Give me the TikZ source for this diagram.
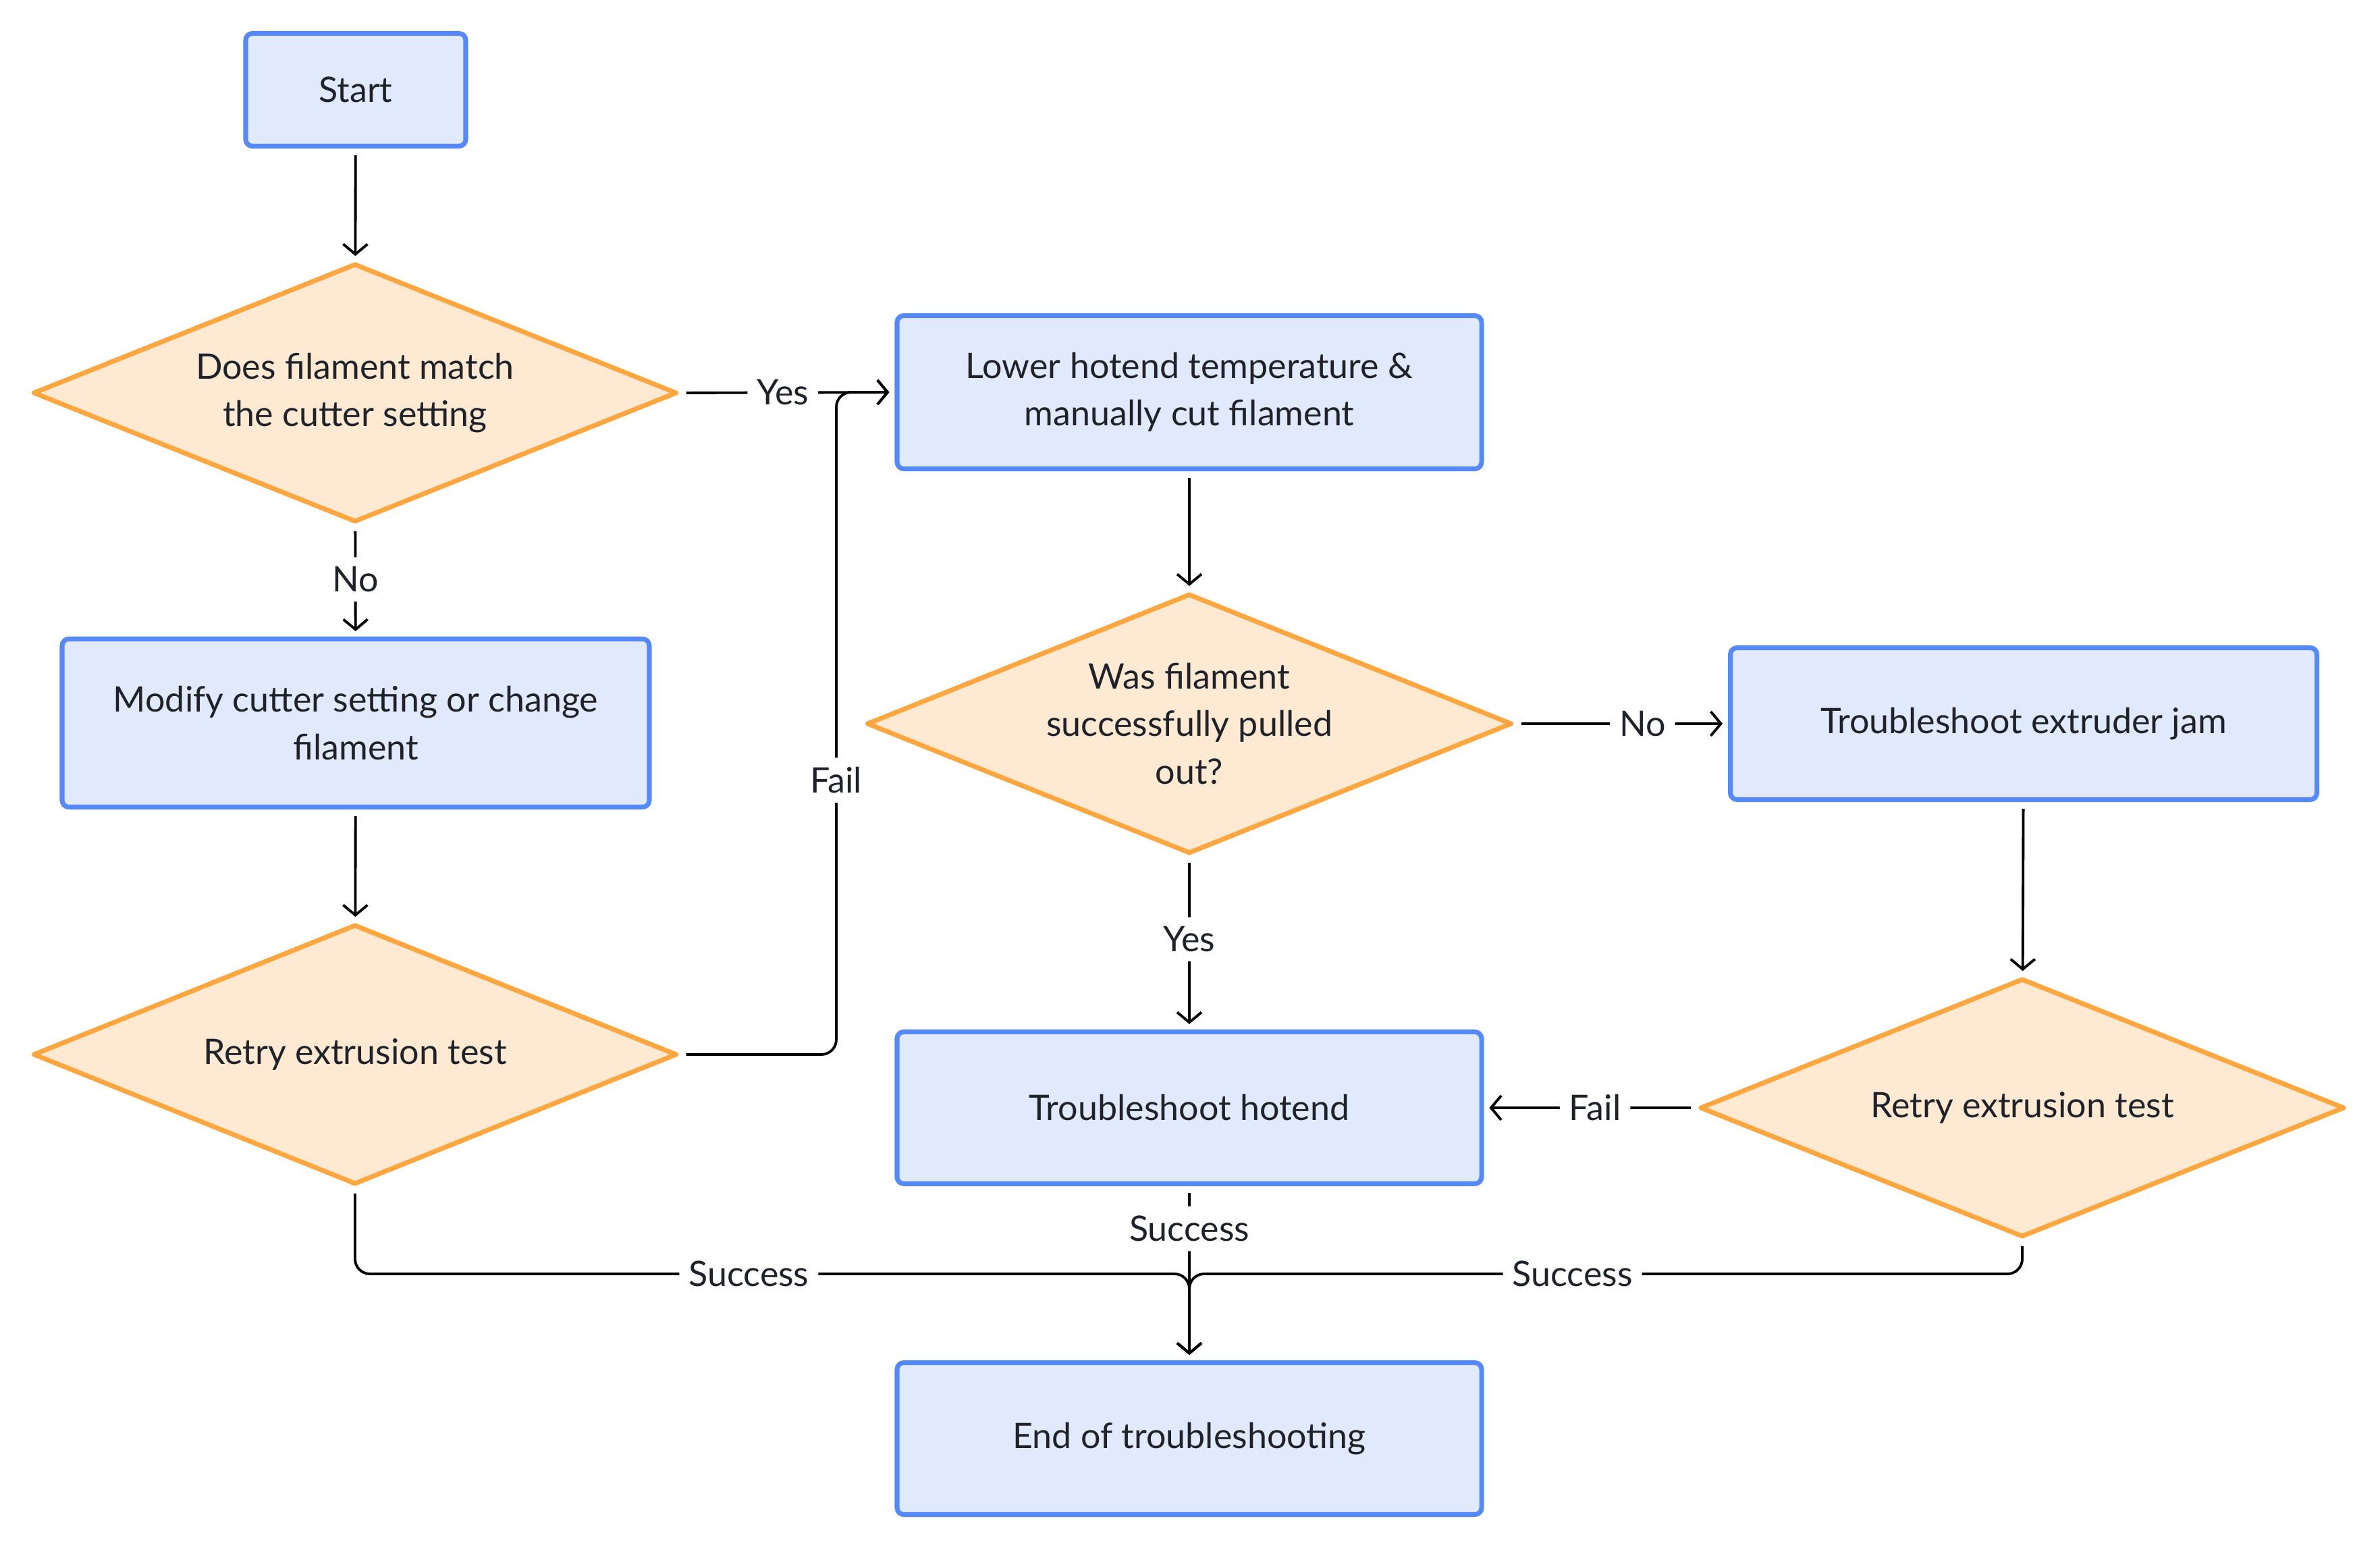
\documentclass[tikz,border=0pt]{standalone}
\usepackage{fontspec}
\setmainfont{Lato}
\usetikzlibrary{shapes.geometric,arrows.meta}
\definecolor{boxfill}{HTML}{E1E9FD}
\definecolor{boxline}{HTML}{5588F8}
\definecolor{dfill}{HTML}{FEE9D3}
\definecolor{dline}{HTML}{FEA63F}
\definecolor{txt}{HTML}{1F2329}
\tikzset{
  every node/.style={text=txt, font=\fontsize{14.8}{20}\selectfont},
  box/.style={draw=boxline, fill=boxfill, line width=2pt, rounded corners=0.1cm, align=center, inner sep=0pt},
  dec/.style={diamond, shape aspect=2.49, draw=dline, fill=dfill, line width=2pt, line join=round, align=center, inner sep=0pt},
  conn/.style={draw=black, line width=1.1pt, rounded corners=0.22cm, shorten <=0.1cm, shorten >=0.08cm, -{Straight Barb[length=0.15cm, width=0.36cm, line width=1.1pt]}},
  lab/.style={fill=white, inner sep=0.14cm}
}
\begin{document}
\begin{tikzpicture}[x=1cm,y=-1cm]
\useasboundingbox (0,0) rectangle (35.26,22.96);
\node[box, minimum width=3.26cm, minimum height=1.67cm] (start) at (5.27,1.33) {Start};
\node[dec, minimum width=9.54cm, minimum height=3.83cm] (d1) at (5.26,5.82) {Does filament match\\the cutter setting};
\node[box, minimum width=8.70cm, minimum height=2.49cm] (modify) at (5.27,10.71) {Modify cutter setting or change\\filament};
\node[dec, minimum width=9.54cm, minimum height=3.85cm] (d2) at (5.26,15.62) {Retry extrusion test};
\node[box, minimum width=8.66cm, minimum height=2.27cm] (lower) at (17.62,5.81) {Lower hotend temperature \&\\manually cut filament};
\node[dec, minimum width=9.56cm, minimum height=3.85cm] (d3) at (17.62,10.72) {Was filament\\successfully pulled\\out?};
\node[box, minimum width=8.69cm, minimum height=2.25cm] (jam) at (29.98,10.72) {Troubleshoot extruder jam};
\node[dec, minimum width=9.55cm, minimum height=3.83cm] (d4) at (29.96,16.41) {Retry extrusion test};
\node[box, minimum width=8.66cm, minimum height=2.25cm] (hotend) at (17.62,16.41) {Troubleshoot hotend};
\node[box, minimum width=8.66cm, minimum height=2.25cm] (end) at (17.62,21.31) {End of troubleshooting};
\coordinate (fj) at (12.39,5.81);
\coordinate (mj) at (17.62,18.87);

\draw[conn] (start) -- (d1);
\draw[conn] (d1) -- node[lab, pos=0.49] {No} (modify);
\draw[conn] (modify) -- (d2);
\draw[conn] (d2.east) -| node[lab, pos=0.707] {Fail} (fj) -- (lower.west);
\draw[conn] (d1.east) -- node[lab, pos=0.48] {Yes} (lower.west);
\draw[conn] (lower) -- (d3);
\draw[conn] (d3.east) -- node[lab, pos=0.6] {No} (jam.west);
\draw[conn] (d3.south) -- node[lab, pos=0.48] {Yes} (hotend.north);
\draw[conn] (jam) -- (d4);
\draw[conn] (d4.west) -- node[lab, pos=0.48] {Fail} (hotend.east);
\draw[conn] (d2.south) |- node[lab, pos=0.736] {Success} (mj) -- (end.north);
\draw[conn] (d4.south) |- node[lab, pos=0.77] {Success} (mj) -- (end.north);
\draw[conn] (hotend.south) -- node[lab, pos=0.245] {Success} (end.north);
\end{tikzpicture}
\end{document}
